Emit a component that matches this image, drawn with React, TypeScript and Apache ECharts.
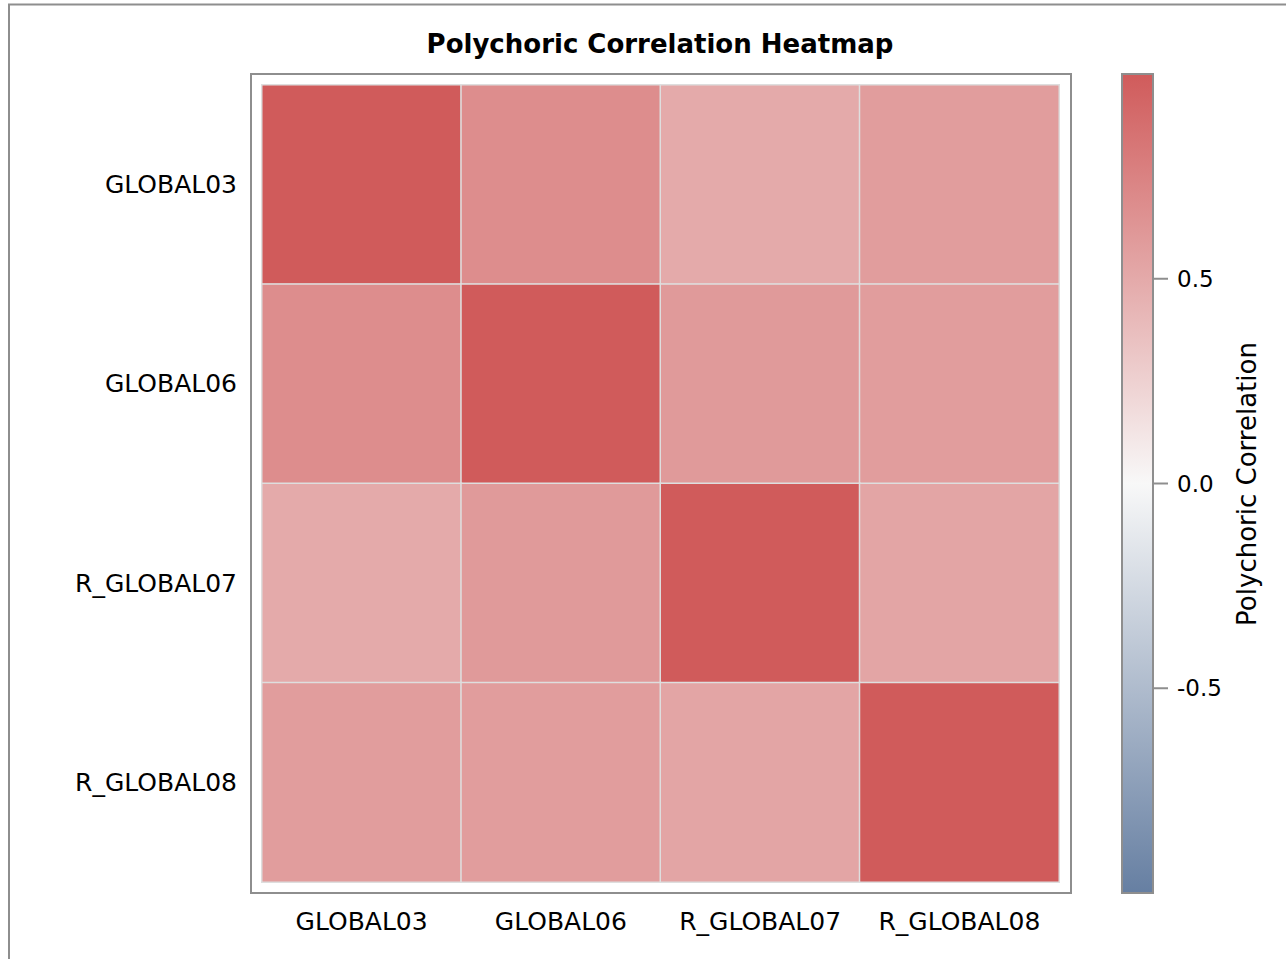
import React, { useEffect, useRef } from "react";
import * as echarts from "echarts";

const variables = ["GLOBAL03", "GLOBAL06", "R_GLOBAL07", "R_GLOBAL08"];
const rowGLOBAL03 = [1.0, 0.68, 0.5, 0.58];
const rowGLOBAL06 = [0.68, 1.0, 0.6, 0.58];
const rowR_GLOBAL07 = [0.5, 0.6, 1.0, 0.53];
const rowR_GLOBAL08 = [0.58, 0.58, 0.53, 1.0];
const rows = [rowGLOBAL03, rowGLOBAL06, rowR_GLOBAL07, rowR_GLOBAL08];
const colorTicks = [-0.5, 0, 0.5];
const rampColors = ["#667FA2", "#F8F8F8", "#D05B5B"];

const FONT = "DejaVu Sans";

export default function App() {
  const ref = useRef<HTMLDivElement>(null);
  useEffect(() => {
    if (!ref.current) return;
    const chart = echarts.init(ref.current, null, { renderer: "svg" });
    const data: number[][] = [];
    rows.forEach((row, yi) => row.forEach((v, xi) => data.push([xi, yi, v])));
    const staticGraphics: any[] = [
      {
        type: "rect",
        shape: { x: 9, y: 4.5, width: 1400, height: 1000 },
        style: { fill: "none", stroke: "#8e8e8e", lineWidth: 2 },
        silent: true,
      },
      {
        type: "rect",
        shape: { x: 251, y: 74, width: 820, height: 819 },
        style: { fill: "none", stroke: "#8e8e8e", lineWidth: 2 },
        silent: true,
      },
      {
        type: "rect",
        shape: { x: 1122, y: 74, width: 31, height: 819 },
        style: {
          fill: new echarts.graphic.LinearGradient(0, 0, 0, 1, [
            { offset: 0, color: rampColors[2] },
            { offset: 0.5, color: rampColors[1] },
            { offset: 1, color: rampColors[0] },
          ]),
          stroke: "#8e8e8e",
          lineWidth: 2,
        },
        silent: true,
      },
      {
        type: "text",
        x: 660,
        y: 44,
        style: {
          text: "Polychoric Correlation Heatmap",
          font: `bold 26px "${FONT}"`,
          fill: "#000",
          textAlign: "center",
          textVerticalAlign: "middle",
        },
        silent: true,
      },
      {
        type: "text",
        x: 1247,
        y: 484,
        rotation: Math.PI / 2,
        style: {
          text: "Polychoric Correlation",
          font: `26px "${FONT}"`,
          fill: "#000",
          textAlign: "center",
          textVerticalAlign: "middle",
        },
        silent: true,
      },
    ];
    chart.setOption({
      animation: false,
      backgroundColor: "#ffffff",
      grid: [
        { left: 262, top: 85, width: 797, height: 797, containLabel: false },
        { left: 1122, top: 74, width: 31, height: 819, containLabel: false },
      ],
      xAxis: [
        {
          type: "category",
          data: variables,
          gridIndex: 0,
          position: "bottom",
          axisLine: { show: false },
          axisTick: { show: false },
          splitLine: { show: false },
          axisLabel: {
            interval: 0,
            hideOverlap: false,
            color: "#000",
            fontFamily: FONT,
            fontSize: 25,
            margin: 27,
          },
        },
        { type: "value", gridIndex: 1, show: false, min: 0, max: 1 },
      ],
      yAxis: [
        {
          type: "category",
          data: variables,
          gridIndex: 0,
          inverse: true,
          axisLine: { show: false },
          axisTick: { show: false },
          splitLine: { show: false },
          axisLabel: {
            interval: 0,
            color: "#000",
            fontFamily: FONT,
            fontSize: 25,
            margin: 25,
          },
        },
        {
          type: "value",
          gridIndex: 1,
          position: "right",
          min: -1,
          max: 1,
          axisLine: { show: false },
          splitLine: { show: false },
          axisTick: { show: false },
          axisLabel: {
            show: true,
            customValues: colorTicks,
            color: "#000",
            fontFamily: FONT,
            fontSize: 23,
            margin: 24,
            formatter: (v: number) => v.toFixed(1),
          },
        },
      ],
      visualMap: {
        show: false,
        type: "continuous",
        min: -1,
        max: 1,
        seriesIndex: 0,
        inRange: { color: rampColors },
      },
      series: [
        {
          type: "heatmap",
          xAxisIndex: 0,
          yAxisIndex: 0,
          data,
          itemStyle: { borderColor: "#dedede", borderWidth: 1.5 },
          emphasis: { disabled: true },
        },
      ],
      graphic: staticGraphics,
    });
    const tickLines = colorTicks.map((v) => {
      const py = chart.convertToPixel({ yAxisIndex: 1 }, v) as number;
      return {
        type: "line",
        shape: { x1: 1153, y1: py, x2: 1168, y2: py },
        style: { stroke: "#8e8e8e", lineWidth: 2 },
        silent: true,
      };
    });
    chart.setOption({ graphic: [...staticGraphics, ...tickLines] }, { replaceMerge: ["graphic"] });
    return () => chart.dispose();
  }, []);
  return (
    <div
      ref={ref}
      style={{ position: "absolute", left: 0, top: 0, width: 1286, height: 959 }}
    />
  );
}
